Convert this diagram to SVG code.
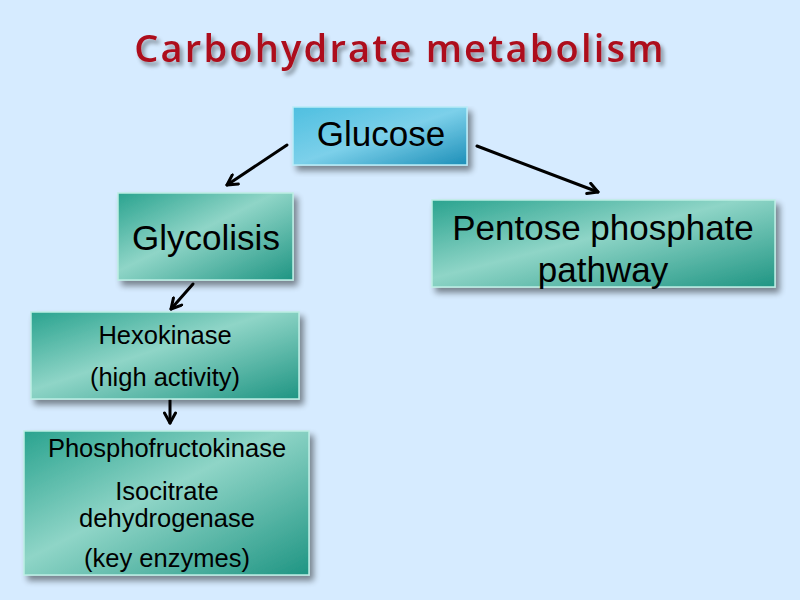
<svg xmlns="http://www.w3.org/2000/svg" width="800" height="600" viewBox="0 0 800 600">
<defs>
<linearGradient id="teal" x1="0" y1="0" x2="1" y2="1">
<stop offset="0" stop-color="#2aa38f"/>
<stop offset="0.45" stop-color="#8fd5c7"/>
<stop offset="1" stop-color="#1f9583"/>
</linearGradient>
<linearGradient id="blue" x1="0" y1="0" x2="1" y2="1">
<stop offset="0" stop-color="#4fbfe0"/>
<stop offset="0.5" stop-color="#7cd0ea"/>
<stop offset="1" stop-color="#1d8fb8"/>
</linearGradient>
<filter id="sh" x="-10%" y="-10%" width="125%" height="130%">
<feGaussianBlur in="SourceAlpha" stdDeviation="3"/>
<feOffset dx="4" dy="5" result="b"/>
<feComponentTransfer><feFuncA type="linear" slope="0.45"/></feComponentTransfer>
<feMerge><feMergeNode/><feMergeNode in="SourceGraphic"/></feMerge>
</filter>
<filter id="tsh" x="-5%" y="-20%" width="110%" height="150%">
<feGaussianBlur in="SourceAlpha" stdDeviation="2"/>
<feOffset dx="3" dy="4"/>
<feComponentTransfer><feFuncA type="linear" slope="0.4"/></feComponentTransfer>
<feMerge><feMergeNode/><feMergeNode in="SourceGraphic"/></feMerge>
</filter>
<marker id="arr" markerWidth="14" markerHeight="14" refX="12" refY="7" orient="auto" markerUnits="userSpaceOnUse" viewBox="0 0 14 14">
<path d="M2,1.5 L12,7 L2,12.5" fill="none" stroke="#000" stroke-width="3" stroke-linecap="round" stroke-linejoin="round"/>
</marker>
</defs>
<style>
.box{stroke:#bdeee4;stroke-width:1.5;filter:url(#sh)}
.bx{stroke:#b9ecf7;stroke-width:1.5;filter:url(#sh)}
.t{font-family:"Liberation Sans",Arial,sans-serif;fill:#000;text-anchor:middle}
.big{font-size:35px}
.sm{font-size:25.5px}
.c{stroke:#000;stroke-width:3;fill:none;marker-end:url(#arr);stroke-linecap:round}
</style>
<rect width="800" height="600" fill="#d6ebff"/>
<text x="400" y="62" text-anchor="middle" font-family="'Open Sans','DejaVu Sans',sans-serif" font-size="38" font-weight="600" fill="#ad111b" letter-spacing="2.2" filter="url(#tsh)">Carbohydrate metabolism</text>
<g id="connectors">
<line class="c" x1="287" y1="145" x2="227" y2="185"/>
<line class="c" x1="477" y1="146" x2="598" y2="192"/>
<line class="c" x1="193" y1="284" x2="171" y2="309"/>
<line class="c" x1="170" y1="400" x2="170" y2="423"/>
</g>
<g id="glucose">
<rect class="bx" x="293" y="107" width="174" height="58" fill="url(#blue)"/>
<text class="t big" x="381" y="146">Glucose</text>
</g>
<g id="glycolisis">
<rect class="box" x="118" y="193" width="175" height="87" fill="url(#teal)"/>
<text class="t big" x="206" y="250">Glycolisis</text>
</g>
<g id="pentose">
<rect class="box" x="432" y="200" width="343" height="87" fill="url(#teal)"/>
<text class="t big" x="603" y="240">Pentose phosphate</text>
<text class="t big" x="603" y="282">pathway</text>
</g>
<g id="hexokinase">
<rect class="box" x="31" y="312" width="268" height="87" fill="url(#teal)"/>
<text class="t sm" x="165" y="344">Hexokinase</text>
<text class="t sm" x="165" y="386">(high activity)</text>
</g>
<g id="phospho">
<rect class="box" x="24" y="431" width="285" height="144" fill="url(#teal)"/>
<text class="t sm" x="167" y="457">Phosphofructokinase</text>
<text class="t sm" x="167" y="500">Isocitrate</text>
<text class="t sm" x="167" y="527">dehydrogenase</text>
<text class="t sm" x="167" y="567">(key enzymes)</text>
</g>
</svg>
